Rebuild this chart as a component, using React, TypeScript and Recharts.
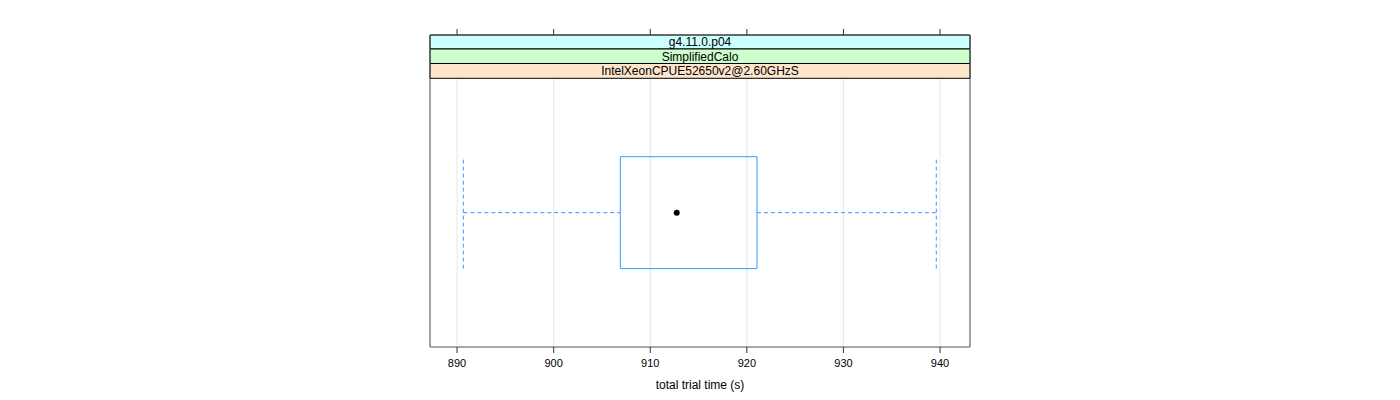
import React from 'react';
import {
  ComposedChart,
  XAxis,
  YAxis,
  CartesianGrid,
  ReferenceArea,
  ReferenceLine,
  Scatter,
} from 'recharts';

// ---- data ----
const stripLabels = ['g4.11.0.p04', 'SimplifiedCalo', 'IntelXeonCPUE52650v2@2.60GHzS'];
const stripColors = ['#ccffff', '#ccffcc', '#ffe5cc'];
const categories = ['IntelXeonCPUE52650v2@2.60GHzS'];
const whiskerLow = [890.65];
const q1 = [906.9];
const median = [912.74];
const q3 = [921.05];
const whiskerHigh = [939.61];
const xTicks = [890, 900, 910, 920, 930, 940];
const xDomain: [number, number] = [887.2, 943.1];
const xLabel = 'total trial time (s)';

// y layout (category index 1, lattice-style range 0.4..1.6, strips above)
const yBottom = 0.4;
const stripEdges = [1.7934, 1.7309, 1.6661, 1.6];

const FONT = '"Liberation Sans", Arial, Helvetica, sans-serif';
const BLUE = '#3a98ff';

const medianData = categories.map((c, i) => ({ x: median[i], y: i + 1, name: c }));

export default function App() {
  const i = 0;
  const yc = i + 1;
  const half = 0.25;
  return (
    <div style={{ position: 'absolute', left: 0, top: 0, width: 1400, height: 400, background: '#fff' }}>
      <ComposedChart
        width={1400}
        height={400}
        margin={{ top: 29, right: 430, bottom: 20, left: 430 }}
        style={{ fontFamily: FONT }}
      >
        <CartesianGrid horizontal={false} vertical stroke="#e6e6e6" strokeWidth={1} />
        <XAxis
          xAxisId={0}
          dataKey="x"
          type="number"
          domain={xDomain}
          ticks={xTicks}
          allowDataOverflow
          height={33}
          axisLine={false}
          tickLine={{ stroke: '#333' }}
          tickSize={6}
          tickMargin={6}
          tick={{ fill: '#000', fontSize: 11, fontFamily: FONT }}
          label={{ value: xLabel, position: 'bottom', offset: 0, fill: '#000', fontSize: 12, fontFamily: FONT }}
        />
        <XAxis
          xAxisId="top"
          orientation="top"
          dataKey="x"
          type="number"
          domain={xDomain}
          ticks={xTicks}
          allowDataOverflow
          height={6}
          axisLine={false}
          tickLine={{ stroke: '#333' }}
          tickSize={6}
          tickFormatter={() => ''}
        />
        <YAxis dataKey="y" type="number" domain={[yBottom, stripEdges[0]]} allowDataOverflow hide />

        {/* box */}
        <ReferenceArea
          x1={q1[i]}
          x2={q3[i]}
          y1={yc - half}
          y2={yc + half}
          fill="none"
          stroke={BLUE}
          strokeWidth={1}
          ifOverflow="visible"
        />
        {/* umbrellas */}
        <ReferenceLine
          segment={[{ x: whiskerLow[i], y: yc }, { x: q1[i], y: yc }]}
          stroke={BLUE}
          strokeDasharray="4 3"
          ifOverflow="visible"
        />
        <ReferenceLine
          segment={[{ x: q3[i], y: yc }, { x: whiskerHigh[i], y: yc }]}
          stroke={BLUE}
          strokeDasharray="4 3"
          ifOverflow="visible"
        />
        <ReferenceLine
          segment={[{ x: whiskerLow[i], y: yc - half }, { x: whiskerLow[i], y: yc + half }]}
          stroke={BLUE}
          strokeDasharray="4 3"
          ifOverflow="visible"
        />
        <ReferenceLine
          segment={[{ x: whiskerHigh[i], y: yc - half }, { x: whiskerHigh[i], y: yc + half }]}
          stroke={BLUE}
          strokeDasharray="4 3"
          ifOverflow="visible"
        />

        {/* strips */}
        {stripLabels.map((lab, k) => (
          <ReferenceArea
            key={lab}
            y1={stripEdges[k + 1]}
            y2={stripEdges[k]}
            fill={stripColors[k]}
            fillOpacity={1}
            stroke="#000"
            strokeWidth={1}
            ifOverflow="visible"
            label={{ value: lab, position: 'center', fill: '#000', fontSize: 12, fontFamily: FONT }}
          />
        ))}

        {/* panel border */}
        <ReferenceArea
          y1={yBottom}
          y2={stripEdges[0]}
          fill="none"
          stroke="#555"
          strokeWidth={1}
          ifOverflow="visible"
        />

        <Scatter
          data={medianData}
          dataKey="y"
          isAnimationActive={false}
          shape={(p: any) => <circle cx={p.cx} cy={p.cy} r={3} fill="#000" />}
        />
      </ComposedChart>
    </div>
  );
}
